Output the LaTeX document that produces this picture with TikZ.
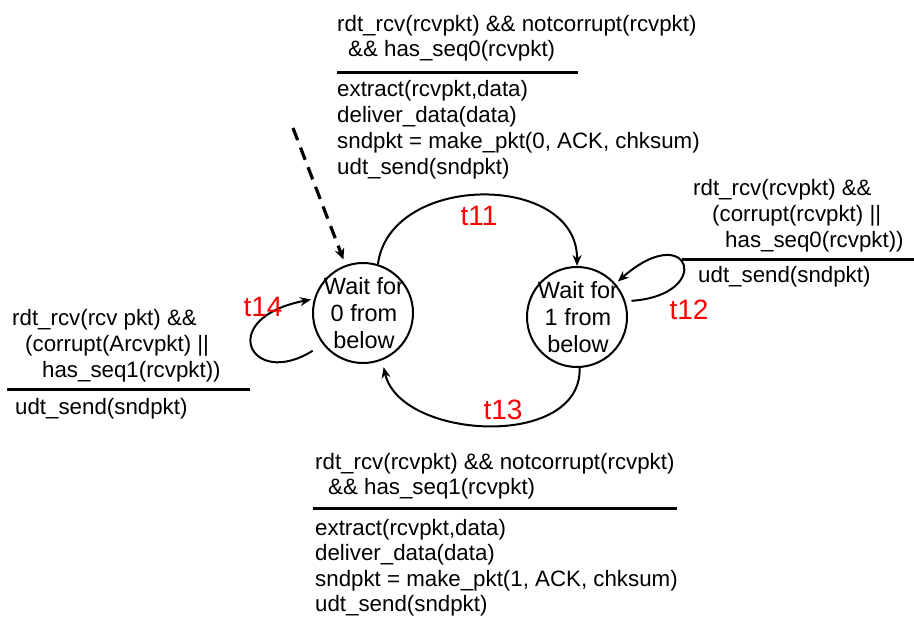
\documentclass[tikz,border=0pt]{standalone}
\usepackage{fontspec}
\setmainfont{Liberation Sans}
\usetikzlibrary{arrows.meta}

\tikzset{
  lbl/.style={anchor=base west, inner sep=0pt, font=\fontsize{22.3}{26}\selectfont},
  state/.style={circle, draw, line width=2pt, minimum size=100pt, inner sep=0pt},
  stxt/.style={align=center, inner sep=0pt, font=\fontsize{23.5}{27}\selectfont},
  tname/.style={text=red, inner sep=0pt, font=\fontsize{28}{28}\selectfont},
  trans/.style={line width=2pt, -{Stealth[length=11pt,width=9pt]}},
  initarrow/.style={line width=3.2pt, dash pattern=on 13pt off 8pt, -{Stealth[length=11pt,width=10pt]}},
  rulebar/.style={line width=3pt},
}

\begin{document}
\begin{tikzpicture}[x=1pt,y=-1pt]
\useasboundingbox (0,0) rectangle (914,626);

% states
\node[state] (s0) at (363,313) {};
\node[state] (s1) at (577,317) {};
\node[stxt] (s0t) at (364,313) {Wait for\\0 from\\below};
\node[stxt] (s1t) at (578,317) {Wait for\\1 from\\below};

% initial transition
\coordinate (init) at (293,128);
\draw[initarrow, shorten >=6pt] (init) -- (s0.110);

% t11: 0 -> 1
\draw[trans] (s0.73) .. controls (390,172) and (578,172) .. (s1.north);
\node[tname] (t11) at (479,216) {t11};

% t13: 1 -> 0
\draw[trans, shorten >=7pt] (s1.-87) .. controls (582,450) and (400,440) .. (s0.-68);
\node[tname] (t13) at (503,410) {t13};

% t12: self loop on state 1
\draw[trans, shorten <=6pt, shorten >=3pt] (s1.18) .. controls (715,295) and (690,218) .. (s1.41);
\node[tname] (t12) at (689,310) {t12};

% t14: self loop on state 0
\draw[trans, shorten <=12pt, shorten >=3pt] (s0.218) .. controls (250,390) and (215,318) .. (s0.164);
\node[tname] (t14) at (263,307) {t14};

% t11 condition / action
\node[lbl] (c11a) at (337,32) {rdt\_rcv(rcvpkt) \&\& notcorrupt(rcvpkt)};
\node[lbl] (c11b) at (348,57) {\&\& has\_seq0(rcvpkt)};
\draw[rulebar] (337,73) -- (578,73);
\node[lbl] (a11a) at (337,96) {extract(rcvpkt,data)};
\node[lbl] (a11b) at (337,122) {deliver\_data(data)};
\node[lbl] (a11c) at (337,148) {sndpkt = make\_pkt(0, ACK, chksum)};
\node[lbl] (a11d) at (337,174) {udt\_send(sndpkt)};

% t12 condition / action
\node[lbl] (c12a) at (693,195) {rdt\_rcv(rcvpkt) \&\&};
\node[lbl] (c12b) at (712,221) {(corrupt(rcvpkt) ||};
\node[lbl] (c12c) at (725,247) {has\_seq0(rcvpkt))};
\draw[rulebar] (682,259) -- (914,259);
\node[lbl] (a12a) at (698,282) {udt\_send(sndpkt)};

% t14 condition / action
\node[lbl] (c14a) at (12,325) {rdt\_rcv(rcv pkt) \&\&};
\node[lbl] (c14b) at (25,351) {(corrupt(Arcvpkt) ||};
\node[lbl] (c14c) at (42,377) {has\_seq1(rcvpkt))};
\draw[rulebar] (7,389) -- (250,389);
\node[lbl] (a14a) at (15,414) {udt\_send(sndpkt)};

% t13 condition / action
\node[lbl] (c13a) at (315,469) {rdt\_rcv(rcvpkt) \&\& notcorrupt(rcvpkt)};
\node[lbl] (c13b) at (328,494) {\&\& has\_seq1(rcvpkt)};
\draw[rulebar] (313,508) -- (677,508);
\node[lbl] (a13a) at (315,535) {extract(rcvpkt,data)};
\node[lbl] (a13b) at (315,560) {deliver\_data(data)};
\node[lbl] (a13c) at (315,586) {sndpkt = make\_pkt(1, ACK, chksum)};
\node[lbl] (a13d) at (315,611) {udt\_send(sndpkt)};
\end{tikzpicture}
\end{document}
